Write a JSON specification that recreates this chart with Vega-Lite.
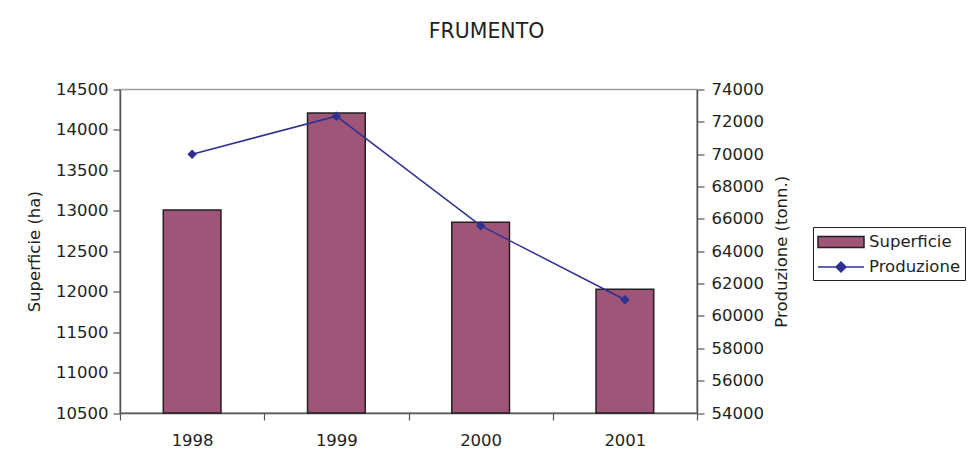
{
  "$schema": "https://vega.github.io/schema/vega-lite/v6.json",
  "autosize": {"type": "none"},
  "width": 577,
  "height": 323.5,
  "padding": {"left": 120, "top": 89.5, "right": 275, "bottom": 57},
  "background": "white",
  "title": {"text": "FRUMENTO", "anchor": "middle", "dx": 78, "offset": 39, "fontSize": 20.5, "fontWeight": "normal", "font": "DejaVu Sans", "color": "#231F20"},
  "config": {
    "font": "DejaVu Sans",
    "view": {"stroke": "#A0A0A0", "strokeWidth": 1.5},
    "axis": {"labelFontSize": 16.5, "titleFontSize": 16.5, "titleFontWeight": "normal", "labelColor": "#231F20", "titleColor": "#231F20", "domainColor": "#555555", "tickColor": "#555555", "domainWidth": 1.5, "tickWidth": 1.2, "tickSize": 7, "grid": false, "labelFont": "DejaVu Sans", "titleFont": "DejaVu Sans"}
  },
  "data": {"values": [
    {"anno": "1998", "serie": "Superficie", "valore": 13010},
    {"anno": "1999", "serie": "Superficie", "valore": 14210},
    {"anno": "2000", "serie": "Superficie", "valore": 12860},
    {"anno": "2001", "serie": "Superficie", "valore": 12030},
    {"anno": "1998", "serie": "Produzione", "valore": 70000},
    {"anno": "1999", "serie": "Produzione", "valore": 72350},
    {"anno": "2000", "serie": "Produzione", "valore": 65580},
    {"anno": "2001", "serie": "Produzione", "valore": 61000}
  ]},
  "encoding": {
    "x": {"field": "anno", "type": "nominal", "scale": {"paddingInner": 0, "paddingOuter": 0}, "axis": {"title": null, "labelAngle": 0, "tickBand": "extent", "labelPadding": 12}}
  },
  "layer": [
    {
      "transform": [{"filter": "datum.serie === 'Superficie'"}],
      "mark": {"type": "bar", "width": {"band": 0.4}, "opacity": 1},
      "encoding": {
        "y": {"field": "valore", "type": "quantitative", "scale": {"domain": [10500, 14500], "nice": false, "zero": false}, "axis": {"title": "Superficie (ha)", "values": [10500, 11000, 11500, 12000, 12500, 13000, 13500, 14000, 14500], "format": "d", "titlePadding": 13, "labelPadding": 5}},
        "y2": {"datum": 10500},
        "color": {"field": "serie", "type": "nominal", "scale": {"domain": ["Superficie", "Produzione"], "range": ["#9E5577", "#2E3192"]},
          "legend": {"orient": "none", "legendX": 693, "legendY": 137.5, "title": null, "strokeColor": "#231F20", "fillColor": "white", "padding": 4, "symbolSize": 400, "symbolOffset": 13, "labelOffset": 17, "rowPadding": 5, "labelFontSize": 16.5, "labelColor": "#231F20", "labelFont": "DejaVu Sans",
            "symbolType": {"expr": "datum.value === 'Superficie' ? 'M-2.3,-0.55H2.3V0.55H-2.3Z' : 'M-2.3,0H2.3M0,-0.5L0.5,0L0,0.5L-0.5,0Z'"},
            "symbolStrokeColor": {"expr": "datum.value === 'Superficie' ? '#231F20' : '#2E3192'"},
            "symbolStrokeWidth": 1.5,
            "symbolOpacity": 1}}
      }
    },
    {
      "transform": [{"filter": "datum.serie === 'Superficie'"}],
      "mark": {"type": "bar", "width": {"band": 0.4}, "fill": null, "fillOpacity": 0, "stroke": "#231F20", "strokeWidth": 1.5},
      "encoding": {
        "y": {"field": "valore", "type": "quantitative", "scale": {"domain": [10500, 14500], "nice": false, "zero": false}, "axis": null},
        "y2": {"datum": 10500}
      }
    },
    {
      "transform": [{"filter": "datum.serie === 'Produzione'"}],
      "mark": {"type": "line", "color": "#2E3192", "strokeWidth": 1.5, "point": {"shape": "diamond", "size": 90, "filled": true, "opacity": 1, "color": "#2E3192"}},
      "encoding": {
        "y": {"field": "valore", "type": "quantitative", "scale": {"domain": [54000, 74000], "nice": false, "zero": false}, "axis": {"orient": "right", "title": "Produzione (tonn.)", "titleAngle": -90, "titleBaseline": "top", "values": [54000, 56000, 58000, 60000, 62000, 64000, 66000, 68000, 70000, 72000, 74000], "format": "d", "titlePadding": 10, "labelPadding": 7}}
      }
    }
  ],
  "resolve": {"scale": {"y": "independent"}}
}
